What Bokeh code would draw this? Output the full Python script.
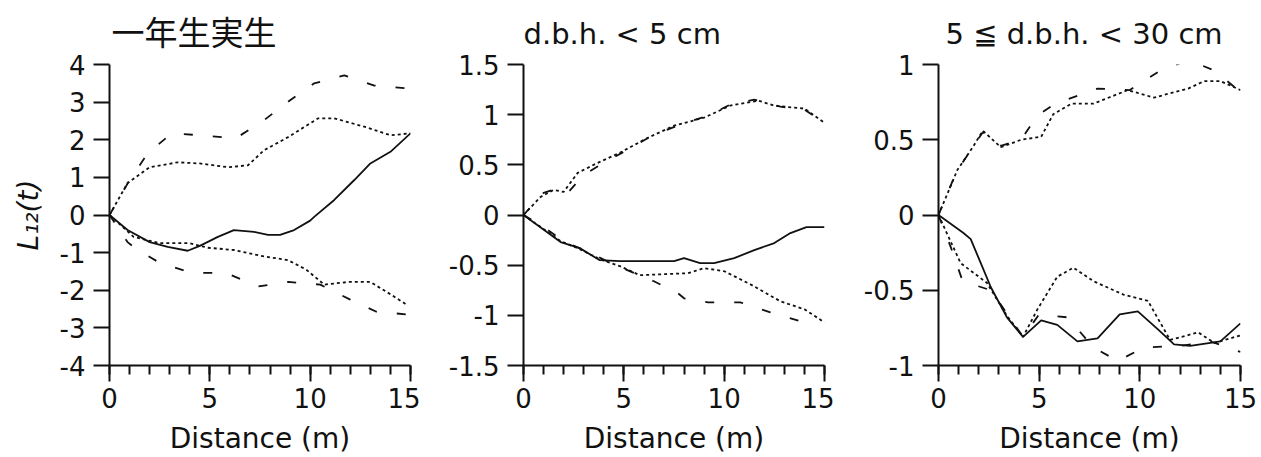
from bokeh.plotting import figure
from bokeh.layouts import row
from bokeh.models import Range1d, SingleIntervalTicker, CustomJSTickFormatter
from bokeh.embed import file_html
from bokeh.resources import INLINE

# ---------------- data ----------------
titles = ["一年生実生", "d.b.h. < 5 cm", "5 ≦ d.b.h. < 30 cm"]
x_label = "Distance (m)"
y_label = "L₁₂(t)"
y_ranges = [(-4, 4), (-1.5, 1.5), (-1, 1)]
y_steps = [1, 0.5, 0.5]

# panel 1: 一年生実生
obs1_x = [0, 0.9, 2.0, 2.9, 3.9, 4.5, 5.4, 6.2, 7.2, 7.9, 8.5, 9.2, 10.0, 10.2, 11.2, 12.2, 13.0, 14.0, 15.0]
obs1_y = [0, -0.4, -0.72, -0.85, -0.95, -0.82, -0.58, -0.4, -0.45, -0.53, -0.53, -0.4, -0.15, -0.05, 0.4, 0.93, 1.37, 1.68, 2.17]
hi95_1_x = [0, 0.9, 2.0, 3.4, 4.5, 5.9, 6.9, 7.7, 8.9, 10.4, 11.2, 12.8, 14.0, 15.0]
hi95_1_y = [0, 0.85, 1.27, 1.4, 1.37, 1.27, 1.32, 1.72, 2.07, 2.57, 2.57, 2.33, 2.12, 2.17]
lo95_1_x = [0, 1.2, 2.5, 4.0, 4.9, 6.2, 7.7, 8.9, 9.8, 10.7, 11.9, 13.0, 13.8, 14.8]
lo95_1_y = [0, -0.58, -0.75, -0.75, -0.87, -0.93, -1.1, -1.2, -1.45, -1.85, -1.78, -1.78, -2.04, -2.38]
hi99_1_x = [0, 0.95, 1.9, 3.1, 4.5, 6.3, 7.7, 9.0, 10.2, 11.7, 13.2, 15.0]
hi99_1_y = [0, 0.88, 1.64, 2.17, 2.12, 2.04, 2.52, 3.05, 3.5, 3.71, 3.44, 3.36]
lo99_1_x = [0, 0.9, 1.4, 2.5, 4.1, 5.8, 7.4, 8.9, 10.5, 12.0, 13.3, 15.0]
lo99_1_y = [0, -0.72, -0.93, -1.27, -1.54, -1.54, -1.9, -1.78, -1.85, -2.25, -2.57, -2.65]

# panel 2: d.b.h. < 5 cm
obs2_x = [0, 1.85, 2.8, 3.8, 4.8, 7.5, 8.0, 8.8, 9.5, 10.5, 11.5, 12.5, 13.3, 14.1, 15.0]
obs2_y = [0, -0.27, -0.33, -0.45, -0.46, -0.46, -0.43, -0.48, -0.48, -0.43, -0.35, -0.28, -0.18, -0.12, -0.12]
hi95_2_x = [0, 0.85, 1.5, 2.0, 2.7, 3.7, 4.8, 6.2, 7.5, 9.0, 10.3, 11.7, 12.5, 14.0, 15.0]
hi95_2_y = [0, 0.18, 0.25, 0.23, 0.42, 0.52, 0.62, 0.77, 0.89, 0.97, 1.09, 1.14, 1.09, 1.06, 0.92]
lo95_2_x = [0, 1.85, 2.8, 3.8, 4.8, 5.8, 8.2, 9.0, 10.0, 11.3, 12.8, 14.0, 15.0]
lo95_2_y = [0, -0.26, -0.34, -0.44, -0.51, -0.6, -0.58, -0.53, -0.56, -0.69, -0.86, -0.94, -1.07]
hi99_2_x = [0, 1.0, 1.6, 2.2, 3.0, 4.0, 5.0, 6.5, 7.8, 9.2, 10.3, 11.5, 12.8, 14.0, 15.0]
hi99_2_y = [0, 0.22, 0.26, 0.22, 0.4, 0.52, 0.63, 0.8, 0.9, 0.99, 1.1, 1.15, 1.08, 1.05, 0.92]
lo99_2_x = [0, 1.0, 2.0, 3.0, 4.7, 6.5, 7.7, 8.0, 9.2, 10.8, 12.3, 14.0, 14.5]
lo99_2_y = [0, -0.12, -0.26, -0.35, -0.51, -0.66, -0.78, -0.83, -0.87, -0.87, -0.97, -1.07, -1.08]

# panel 3: 5 ≦ d.b.h. < 30 cm
obs3_x = [0, 1.24, 1.6, 2.1, 2.6, 3.4, 4.2, 5.1, 5.9, 6.9, 7.9, 9.0, 9.9, 10.9, 11.7, 12.5, 14.0, 15.0]
obs3_y = [0, -0.12, -0.16, -0.32, -0.48, -0.68, -0.81, -0.7, -0.73, -0.84, -0.82, -0.66, -0.64, -0.76, -0.86, -0.87, -0.84, -0.72]
hi95_3_x = [0, 0.94, 1.7, 2.2, 3.1, 4.1, 5.1, 5.7, 6.6, 7.7, 9.4, 10.7, 12.4, 13.2, 14.0, 15.0]
hi95_3_y = [0, 0.3, 0.45, 0.56, 0.45, 0.5, 0.52, 0.67, 0.74, 0.74, 0.83, 0.78, 0.84, 0.89, 0.89, 0.83]
lo95_3_x = [0, 1.1, 2.4, 3.4, 4.2, 4.9, 5.9, 6.7, 7.7, 9.2, 10.4, 11.5, 12.9, 13.7, 15.0]
lo95_3_y = [0, -0.32, -0.45, -0.67, -0.81, -0.63, -0.41, -0.35, -0.44, -0.53, -0.57, -0.83, -0.78, -0.85, -0.8]
hi99_3_x = [0, 0.9, 1.7, 2.2, 3.1, 4.1, 4.9, 5.8, 7.9, 9.5, 10.9, 12.4, 13.7, 14.7, 15.0]
hi99_3_y = [0, 0.29, 0.45, 0.55, 0.46, 0.5, 0.66, 0.74, 0.84, 0.83, 0.95, 1.03, 0.96, 0.85, 0.83]
lo99_3_x = [0, 0.6, 1.2, 2.6, 4.2, 5.0, 6.4, 7.7, 8.9, 10.2, 12.0, 13.5, 15.0]
lo99_3_y = [0, -0.21, -0.44, -0.5, -0.81, -0.66, -0.68, -0.88, -0.97, -0.88, -0.87, -0.84, -0.91]

panels = [
    dict(obs=(obs1_x, obs1_y), hi95=(hi95_1_x, hi95_1_y), lo95=(lo95_1_x, lo95_1_y),
         hi99=(hi99_1_x, hi99_1_y), lo99=(lo99_1_x, lo99_1_y)),
    dict(obs=(obs2_x, obs2_y), hi95=(hi95_2_x, hi95_2_y), lo95=(lo95_2_x, lo95_2_y),
         hi99=(hi99_2_x, hi99_2_y), lo99=(lo99_2_x, lo99_2_y)),
    dict(obs=(obs3_x, obs3_y), hi95=(hi95_3_x, hi95_3_y), lo95=(lo95_3_x, lo95_3_y),
         hi99=(hi99_3_x, hi99_3_y), lo99=(lo99_3_x, lo99_3_y)),
]

# ---------------- layout ----------------
borders_left = [109, 103, 104]
frame_w = [301, 301, 302]
borders_right = [10, 10, 19]
title_fonts = ["DejaVu Sans, Noto Sans CJK JP", "DejaVu Sans", "DejaVu Sans"]
title_sizes = ["33px", "29px", "29px"]
title_offsets = [2, 0, 7]
title_standoffs = [23, 27, 27]
FONT = "DejaVu Sans"
H = 457
TOP = 64
BOTTOM = 91
INK = "#111111"

figs = []
for i, d in enumerate(panels):
    W = borders_left[i] + frame_w[i] + borders_right[i]
    p = figure(width=W, height=H, output_backend="svg", toolbar_location=None,
               x_range=Range1d(0, 15), y_range=Range1d(*y_ranges[i]),
               min_border_left=borders_left[i], min_border_right=borders_right[i],
               min_border_top=TOP, min_border_bottom=BOTTOM,
               title=titles[i])
    p.outline_line_color = None
    p.background_fill_color = "white"
    p.border_fill_color = "white"
    p.grid.visible = False

    p.title.text_font = title_fonts[i]
    p.title.text_font_size = title_sizes[i]
    p.title.text_font_style = "normal"
    p.title.text_color = INK
    p.title.align = "left"
    p.title.offset = title_offsets[i]
    p.title.standoff = title_standoffs[i]

    # x axis
    xa = p.xaxis[0]
    xa.ticker = SingleIntervalTicker(interval=5, num_minor_ticks=5)
    xa.axis_label = x_label
    xa.major_tick_out = 16
    xa.major_tick_in = 0
    xa.minor_tick_out = 9
    xa.minor_tick_in = 0
    xa.major_label_standoff = 6
    xa.axis_label_standoff = 11
    xa.axis_label_text_font_style = "normal"
    xa.minor_tick_line_color = INK

    # y axis
    ya = p.yaxis[0]
    ya.ticker = SingleIntervalTicker(interval=y_steps[i], num_minor_ticks=0)
    ya.formatter = CustomJSTickFormatter(code="return tick.toString();")
    ya.major_tick_out = 16
    ya.major_tick_in = 0
    ya.minor_tick_out = 0
    ya.minor_tick_in = 0
    ya.minor_tick_line_color = None
    ya.major_label_standoff = 8
    if i == 0:
        ya.axis_label = y_label
        ya.axis_label_text_font_style = "italic"
        ya.axis_label_standoff = 12

    for ax in (xa, ya):
        ax.axis_line_width = 2
        ax.major_tick_line_width = 2
        ax.minor_tick_line_width = 2
        ax.axis_line_color = INK
        ax.major_tick_line_color = INK
        ax.major_label_text_font = FONT
        ax.major_label_text_font_size = "26px"
        ax.major_label_text_color = INK
        ax.axis_label_text_font = FONT
        ax.axis_label_text_font_size = "28px"
        ax.axis_label_text_color = INK

    lw = 1.8
    p.line(d["hi99"][0], d["hi99"][1], line_color=INK, line_width=lw, line_dash="9 20")
    p.line(d["lo99"][0], d["lo99"][1], line_color=INK, line_width=lw, line_dash="9 20")
    p.line(d["hi95"][0], d["hi95"][1], line_color=INK, line_width=lw, line_dash="3 3")
    p.line(d["lo95"][0], d["lo95"][1], line_color=INK, line_width=lw, line_dash="3 3")
    p.line(d["obs"][0], d["obs"][1], line_color=INK, line_width=lw)
    figs.append(p)

layout = row(*figs, spacing=0)
open("out.html", "w").write(file_html(layout, INLINE))
